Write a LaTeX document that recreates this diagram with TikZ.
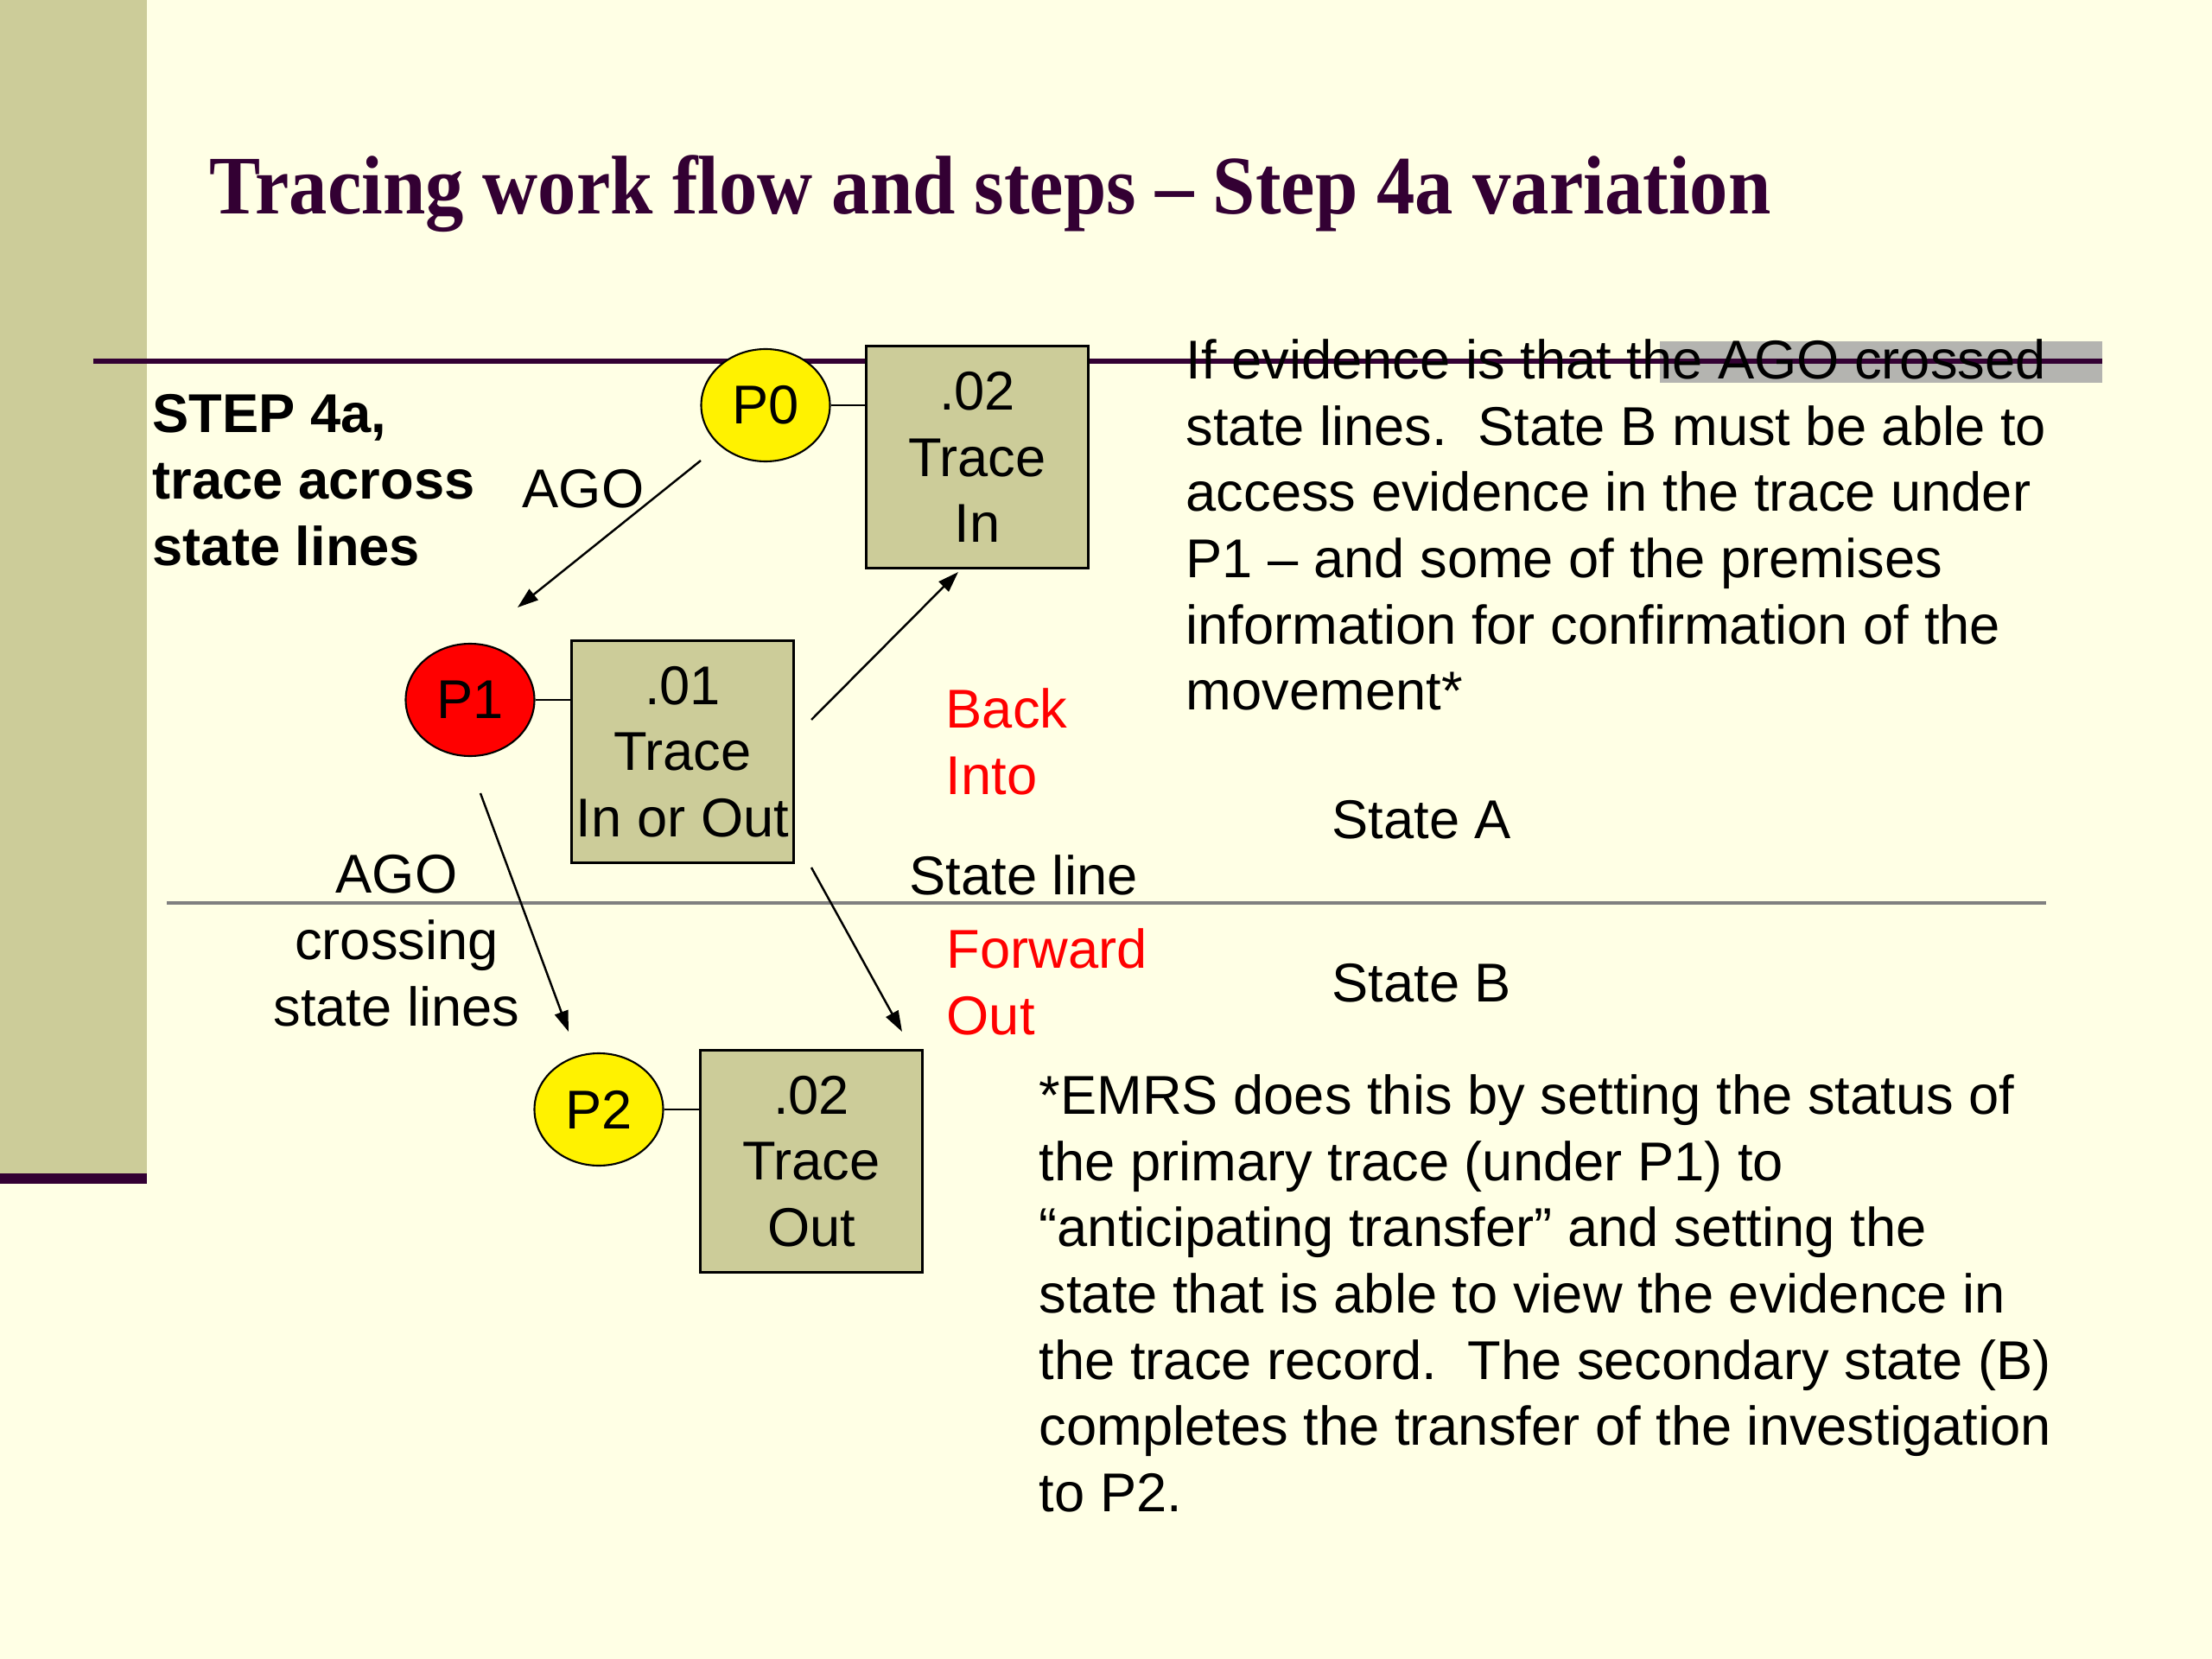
\documentclass[tikz,border=0pt]{standalone}
\usepackage{fontspec}
\setmainfont{Liberation Sans}
\newfontfamily\titlefont[FakeStretch=0.921]{Liberation Serif}
\usepackage{tikz}
\usetikzlibrary{shapes.geometric,arrows.meta}
\definecolor{cream}{HTML}{FFFFE5}
\definecolor{sage}{HTML}{CCCC99}
\definecolor{darkplum}{HTML}{330033}
\definecolor{hilite}{HTML}{B4B4B0}
\definecolor{stateline}{HTML}{808080}

\begin{document}
\begin{tikzpicture}
% Styles
\tikzset{
    txt/.style={inner sep=0, font=\fontsize{18}{21.8}\selectfont},
    pers/.style={ellipse, draw, line width=0.6pt, minimum width=1.49cm, minimum height=1.30cm, txt},
    trace/.style={rectangle, draw, line width=0.8pt, fill=sage, minimum width=2.57cm, minimum height=2.57cm, align=center, txt},
    flow/.style={-{Triangle[length=2.4mm,width=1.6mm]}, line width=0.7pt}
}
% Slide
\useasboundingbox (0,0) rectangle (25.6,-19.2);
\fill[cream] (0,0) rectangle (25.6,-19.2);
\fill[sage] (0,0) rectangle (1.70,-13.65);
\fill[darkplum] (0,-13.58) rectangle (1.70,-13.70);
\node[anchor=base west, inner sep=0, text=darkplum, font=\titlefont\bfseries\fontsize{27.4}{33}\selectfont] (title) at (2.42,-2.48) {Tracing work flow and steps – Step 4a variation};
% Lines
\fill[hilite] (19.21,-3.95) rectangle (24.33,-4.43);
\draw[darkplum, line width=1.5pt] (1.08,-4.18) -- (24.33,-4.18);
\draw[stateline, line width=1pt] (1.93,-10.45) -- (23.68,-10.45);
% Persons and traces
\node[pers, fill=yellow] (P0) at (8.86,-4.69) {P0};
\node[trace] (TrIn) at (11.31,-5.29) {.02\\Trace\\In};
\node[pers, fill=red] (P1) at (5.44,-8.10) {P1};
\node[trace] (TrIO) at (7.90,-8.70) {.01\\Trace\\In or Out};
\node[pers, fill=yellow] (P2) at (6.93,-12.84) {P2};
\node[trace] (TrOut) at (9.39,-13.44) {.02\\Trace\\Out};
\draw (P0.east) -- (P0.east -| TrIn.west);
\draw (P1.east) -- (P1.east -| TrIO.west);
\draw (P2.east) -- (P2.east -| TrOut.west);
% Movement
\coordinate (ago0) at (8.11,-5.33);
\coordinate (ago1) at (5.99,-7.03);
\coordinate (back0) at (9.39,-8.33);
\coordinate (back1) at (11.09,-6.62);
\coordinate (cross0) at (5.56,-9.18);
\coordinate (cross1) at (6.58,-11.94);
\coordinate (fwd0) at (9.39,-10.04);
\coordinate (fwd1) at (10.44,-11.94);
\draw[flow] (ago0) -- (ago1);
\draw[flow] (back0) -- (back1);
\draw[flow] (cross0) -- (cross1);
\draw[flow] (fwd0) -- (fwd1);
% Labels
\node[txt, anchor=north west, align=left, font=\bfseries\fontsize{18}{21.8}\selectfont] (step) at (1.76,-4.56) {STEP 4a,\\trace across\\state lines};
\node[txt, anchor=base west] (ago) at (6.04,-5.87) {AGO};
\node[txt, anchor=north west, align=left] (note) at (13.72,-3.92) {If evidence is that the AGO crossed\\state lines.\ \ State B must be able to\\access evidence in the trace under\\P1 – and some of the premises\\information for confirmation of the\\movement*};
\node[txt, anchor=north west, align=left, text=red] (back) at (10.94,-7.96) {Back\\Into};
\node[txt, anchor=base west] (stA) at (15.41,-9.70) {State A};
\node[txt, anchor=base west] (stline) at (10.52,-10.35) {State line};
\node[txt, anchor=north, align=center] (cross) at (4.59,-9.89) {AGO\\crossing\\state lines};
\node[txt, anchor=north west, align=left, text=red] (fwd) at (10.95,-10.74) {Forward\\Out};
\node[txt, anchor=base west] (stB) at (15.41,-11.59) {State B};
\node[txt, anchor=north west, align=left] (emrs) at (12.02,-12.43) {*EMRS does this by setting the status of\\the primary trace (under P1) to\\“anticipating transfer” and setting the\\state that is able to view the evidence in\\the trace record.\ \ The secondary state (B)\\completes the transfer of the investigation\\to P2.};
\end{tikzpicture}
\end{document}
